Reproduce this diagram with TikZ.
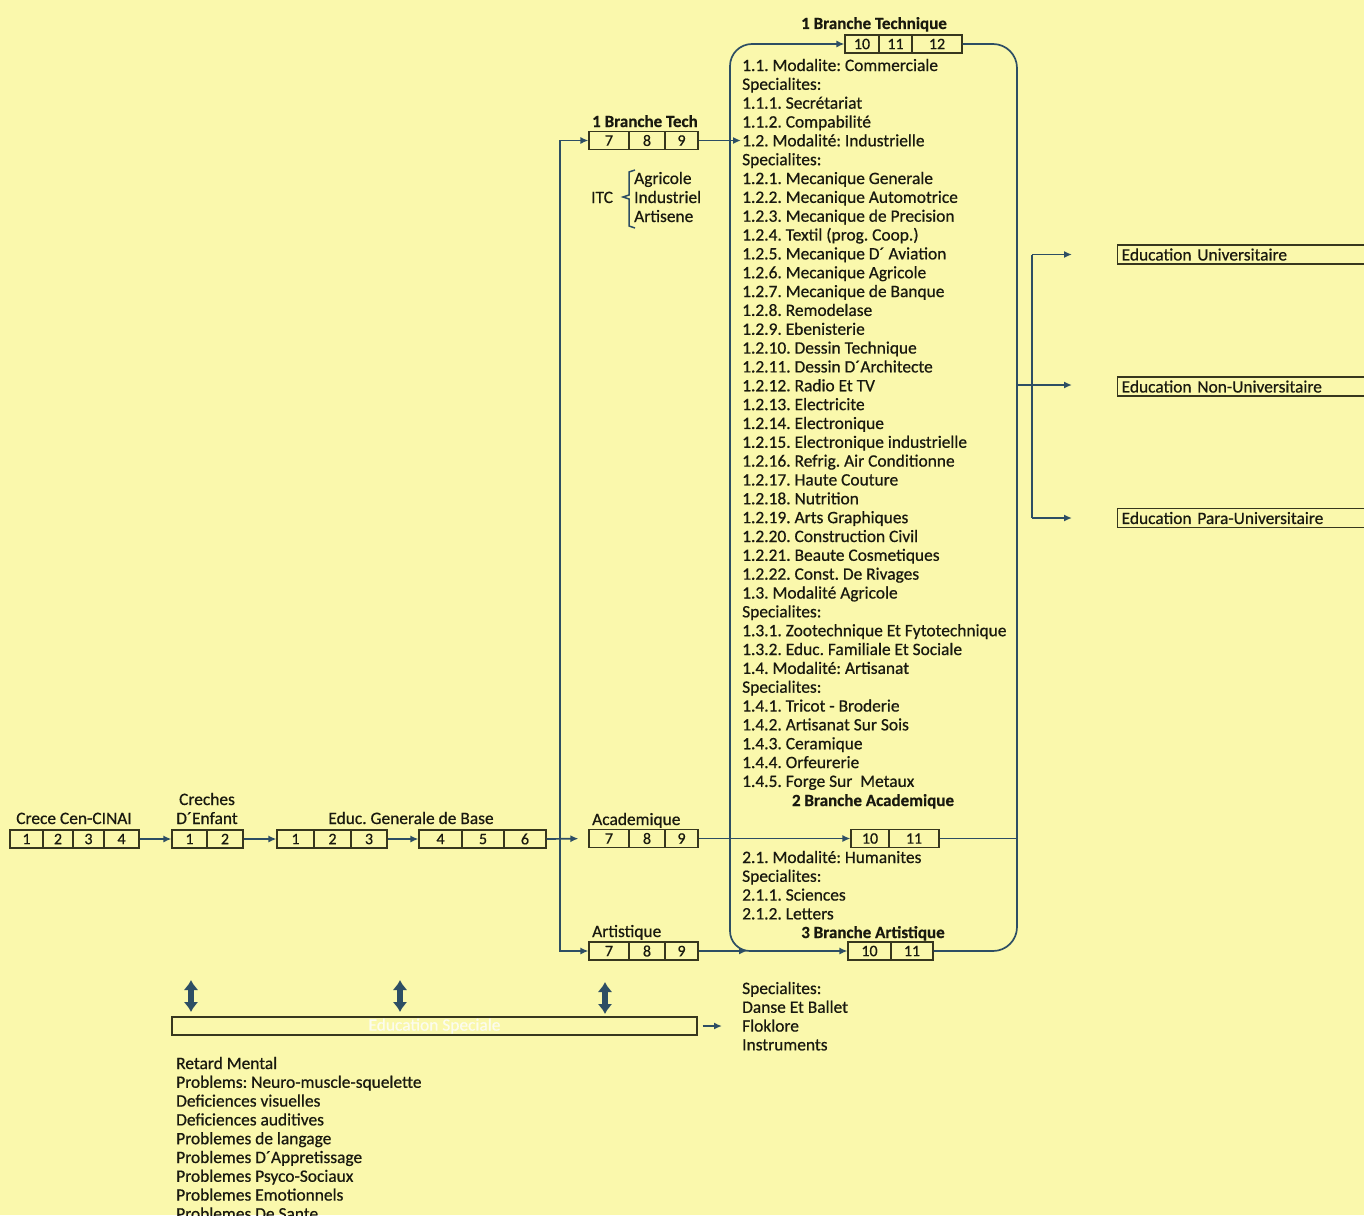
\documentclass[tikz,border=0pt]{standalone}
\usepackage{fontspec}
\setmainfont{Carlito}[UprightFeatures={FakeBold=0.6},BoldFeatures={FakeBold=0.6}]
\usetikzlibrary{arrows.meta,calc}
\definecolor{bg}{RGB}{250,248,172}
\definecolor{linec}{RGB}{45,78,100}
\definecolor{boxc}{RGB}{55,55,30}
\definecolor{txt}{RGB}{25,25,15}
\definecolor{faint}{RGB}{252,252,238}
\frenchspacing
\newcommand{\mycell}[5]{%
  \pgfmathsetmacro{\cw}{#3-#2}\pgfmathsetmacro{\cx}{(#2+#3)/2}%
  \node[cell, minimum width=\cw pt] (#1) at (\cx,#4) {#5};}
\begin{document}
\begin{tikzpicture}[x=1pt,y=-1pt,
  font=\fontsize{17.4}{18.84}\selectfont,
  cell/.style={draw=boxc, line width=1.1pt, minimum height=18pt, inner sep=0pt, text=txt, font=\fontsize{16}{16}\selectfont},
  conn/.style={draw=linec, line width=1.7pt},
  arr/.style={conn, -{Latex[length=8pt,width=7pt]}},
  lbl/.style={anchor=base west, inner sep=0pt, text=txt},
  lblc/.style={anchor=base, inner sep=0pt, text=txt},
  ttl/.style={anchor=base, inner sep=0pt, text=txt, font=\fontsize{17}{17}\selectfont\bfseries},
  dbl/.style={draw=linec, line width=6pt, {Latex[length=10pt,width=15pt]}-{Latex[length=10pt,width=15pt]}},
  rbox/.style={draw=boxc, line width=1.3pt, anchor=west, minimum height=19pt, text width=300pt, inner xsep=4pt, inner ysep=0pt, align=left, text=txt}
]
\fill[bg] (0,0) rectangle (1364,1215);
\useasboundingbox (0,0) rectangle (1364,1215);

% ---- left chain
\mycell{cA1}{10}{43}{839}{1}
\mycell{cA2}{43}{73}{839}{2}
\mycell{cA3}{73}{104}{839}{3}
\mycell{cA4}{104}{139}{839}{4}
\mycell{cB1}{172}{207}{839}{1}
\mycell{cB2}{207}{243}{839}{2}
\mycell{cC1}{277}{314}{839}{1}
\mycell{cC2}{314}{351}{839}{2}
\mycell{cC3}{351}{387}{839}{3}
\mycell{cD1}{419}{462}{839}{4}
\mycell{cD2}{462}{504}{839}{5}
\mycell{cD3}{504}{546}{839}{6}
\node[lblc] (tA) at (74,824) {Crece Cen-CINAI};
\node[lblc] (tB1) at (207,805) {Creches};
\node[lblc] (tB2) at (207,824) {D´Enfant};
\node[lblc] (tC) at (411,824) {Educ. Generale de Base};
\draw[arr] (cA4.east) -- (cB1.west);
\draw[arr] (cB2.east) -- (cC1.west);
\draw[arr] (cC3.east) -- (cD1.west);

% ---- 7 8 9 boxes
\mycell{cE1}{589}{629}{140.5}{7}
\mycell{cE2}{629}{665}{140.5}{8}
\mycell{cE3}{665}{698}{140.5}{9}
\mycell{cF1}{589}{629}{838.5}{7}
\mycell{cF2}{629}{665}{838.5}{8}
\mycell{cF3}{665}{698}{838.5}{9}
\mycell{cG1}{589}{629}{951}{7}
\mycell{cG2}{629}{665}{951}{8}
\mycell{cG3}{665}{698}{951}{9}
\begin{scope}
  \clip (580,100) rectangle (698,133);
  \node[lbl, font=\fontsize{17}{17}\selectfont\bfseries] (tE) at (592,127) {1 Branche Tech};
\end{scope}
\node[lbl] (tF) at (592,825) {Academique};
\node[lbl] (tG) at (592,937) {Artistique};

% ---- ITC bracket
\node[lbl] (itc) at (591,203) {ITC};
\node[lbl] (itc1) at (634,184) {Agricole};
\node[lbl] (itc2) at (634,203) {Industriel};
\node[lbl] (itc3) at (634,222) {Artisene};
\draw[draw=linec, line width=1.5pt] (635,170) -- (629,172) -- (629,195) -- (623,197) -- (629,199) -- (629,226) -- (635,228);

% ---- left vertical distribution
\coordinate (vm) at (560,838.5);
\draw[arr] (vm) |- (cE1.west);
\draw[arr] (vm) |- (cG1.west);
\draw[arr, shorten >=10pt] (cD3.east) -- (cF1.west);

% ---- upper level boxes
\mycell{cH1}{845}{879}{44}{10}
\mycell{cH2}{879}{912}{44}{11}
\mycell{cH3}{912}{962}{44}{12}
\mycell{cI1}{851}{889}{838.5}{10}
\mycell{cI2}{889}{939}{838.5}{11}
\mycell{cJ1}{848}{891}{951}{10}
\mycell{cJ2}{891}{933}{951}{11}
\node[ttl] (hT) at (874,29) {1 Branche Technique};
\node[ttl] (hA) at (873,806) {2 Branche Academique};
\node[ttl] (hR) at (873,938) {3 Branche Artistique};

% ---- frame
\coordinate (fl) at (730,500);
\coordinate (fr) at (1017,500);
\draw[arr, rounded corners=22pt] (fl) |- (cH1.west);
\draw[arr, rounded corners=20pt] (fl) |- (cJ1.west);
\draw[conn, rounded corners=24pt] (cH3.east) -| (fr) |- (cJ2.east);
\draw[arr] (cF3.east) -- (cI1.west);
\draw[conn] (cI2.east) -- (cI2.east -| fr);
\coordinate (techend) at (741,140.5);
\draw[arr] (cE3.east) -- (techend);
\coordinate (artend) at (747,951);
\draw[arr] (cG3.east) -- (artend);

% ---- technical list
\foreach \t [count=\i from 0] in {1.1. Modalite: Commerciale, Specialites:, 1.1.1. Secrétariat, 1.1.2. Compabilité, 1.2. Modalité: Industrielle, Specialites:, 1.2.1. Mecanique Generale, 1.2.2. Mecanique Automotrice, 1.2.3. Mecanique de Precision, 1.2.4. Textil (prog. Coop.), 1.2.5. Mecanique D´ Aviation, 1.2.6. Mecanique Agricole, 1.2.7. Mecanique de Banque, 1.2.8. Remodelase, 1.2.9. Ebenisterie, 1.2.10. Dessin Technique, 1.2.11. Dessin D´Architecte, 1.2.12. Radio Et TV, 1.2.13. Electricite, 1.2.14. Electronique, 1.2.15. Electronique industrielle, 1.2.16. Refrig. Air Conditionne, 1.2.17. Haute Couture, 1.2.18. Nutrition, 1.2.19. Arts Graphiques, 1.2.20. Construction Civil, 1.2.21. Beaute Cosmetiques, 1.2.22. Const. De Rivages, 1.3. Modalité Agricole, Specialites:, 1.3.1. Zootechnique Et Fytotechnique, 1.3.2. Educ. Familiale Et Sociale, 1.4. Modalité: Artisanat, Specialites:, 1.4.1. Tricot - Broderie, 1.4.2. Artisanat Sur Sois, 1.4.3. Ceramique, 1.4.4. Orfeurerie, 1.4.5. Forge Sur\ \ Metaux}
  \node[lbl] (L\i) at (742,{71+18.84*\i}) {\t};

% ---- academic list
\foreach \t [count=\i from 0] in {2.1. Modalité: Humanites, Specialites:, 2.1.1. Sciences, 2.1.2. Letters}
  \node[lbl] (M\i) at (742,{863+18.8*\i}) {\t};

% ---- artistic list
\foreach \t [count=\i from 0] in {Specialites:, Danse Et Ballet, Floklore, Instruments}
  \node[lbl] (A\i) at (742,{994+18.8*\i}) {\t};

% ---- special education
\node[draw=boxc, line width=1.1pt, minimum width=525pt, minimum height=18pt, inner sep=0pt, text=faint] (es) at (434.5,1026) {Education Speciale};
\draw[arr, shorten <=5pt, shorten >=20pt] (es.east) -- (es.east -| A2.west);
\coordinate (d1a) at (191,980); \coordinate (d1b) at (191,1012);
\coordinate (d2a) at (400,980); \coordinate (d2b) at (400,1012);
\coordinate (d3a) at (605,982); \coordinate (d3b) at (605,1014);
\draw[dbl] (d1a) -- (d1b);
\draw[dbl] (d2a) -- (d2b);
\draw[dbl] (d3a) -- (d3b);
\foreach \t [count=\i from 0] in {Retard Mental, Problems: Neuro-muscle-squelette, Deficiences visuelles, Deficiences auditives, Problemes de langage, Problemes D´Appretissage, Problemes Psyco-Sociaux, Problemes Emotionnels, Problemes De Sante}
  \node[lbl] (P\i) at (176,{1069+18.8*\i}) {\t};

% ---- right outputs
\node[rbox] (u1) at (1117,254.5) {Education Universitaire};
\node[rbox] (u2) at (1117,386.5) {Education Non-Universitaire};
\node[rbox] (u3) at (1117,518) {Education Para-Universitaire};
\coordinate (rv1) at (1032,254.5);
\coordinate (rv2) at (1032,518);
\coordinate (ra) at (1017,385);
\draw[conn] (rv1) -- (rv2);
\draw[arr, shorten >=45pt] (rv1) -- (u1.west);
\draw[arr, shorten >=45pt] (rv2) -- (u3.west);
\draw[arr, shorten >=45pt] (ra) -- (ra -| u2.west);
\end{tikzpicture}
\end{document}
